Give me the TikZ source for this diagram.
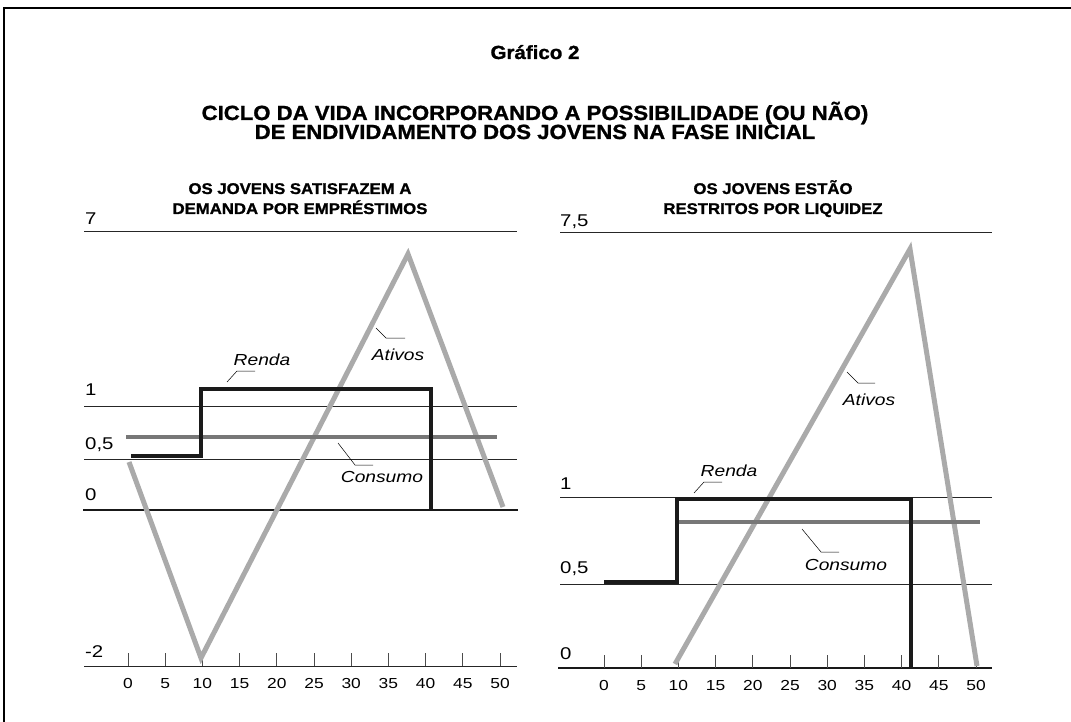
\documentclass[tikz,border=0pt]{standalone}
\usepackage{fontspec}
\setmainfont{Liberation Sans}[FakeStretch=1.2]
\newfontfamily\headfont{Liberation Sans}[FakeStretch=1.08, BoldFeatures={FakeBold=1.2}]
\usetikzlibrary{positioning}

\definecolor{rendacol}{HTML}{1A1A1A}
\definecolor{consumocol}{HTML}{777777}
\definecolor{ativoscol}{HTML}{AAAAAA}

\begin{document}
\begin{tikzpicture}[x=1pt, y=-1pt,
  frame/.style={line width=1.2pt},
  grid/.style={line width=0.9pt, black!85},
  zero/.style={line width=2pt, black!90},
  tick/.style={line width=0.9pt, black!70},
  renda/.style={line width=4pt, rendacol, line join=miter},
  consumo/.style={line width=4pt, consumocol},
  ativos/.style={line width=5pt, ativoscol, line join=miter},
  leader/.style={line width=0.5pt},
  heading/.style={font=\headfont\fontsize{20.5}{22}\selectfont\bfseries, anchor=base},
  subtitle/.style={font=\headfont\fontsize{15.5}{16}\selectfont\bfseries, anchor=base},
  yval/.style={font=\fontsize{17}{17}\selectfont, anchor=base west, inner sep=0pt},
  xval/.style={font=\fontsize{14.5}{15}\selectfont, anchor=base, inner sep=0pt},
  curve/.style={font=\fontsize{16}{16}\selectfont\itshape, inner sep=0pt}]
  \useasboundingbox (0,0) rectangle (1071,722);
  \draw[frame] (4,722) -- (4,8) -- (1071,8);

  % titles
  \node[heading, font=\headfont\fontsize{19}{19}\selectfont\bfseries] (grafico) at (535,59) {Gráfico 2};
  \node[heading] (titleA) at (535,120) {CICLO DA VIDA INCORPORANDO A POSSIBILIDADE (OU NÃO)};
  \node[heading] (titleB) at (535,139) {DE ENDIVIDAMENTO DOS JOVENS NA FASE INICIAL};

  % left panel
  \node[subtitle] (subLA) at (300,194) {OS JOVENS SATISFAZEM A};
  \node[subtitle] (subLB) at (300,214) {DEMANDA POR EMPRÉSTIMOS};
  \draw[grid] (84,231) -- (517,231);
  \draw[grid] (84,406) -- (517,406);
  \draw[grid] (84,459) -- (517,459);
  \draw[zero] (83,510) -- (518,510);
  \draw[grid] (84,666) -- (517,666);
  \node[yval] (lySeven) at (85,225) {7};
  \node[yval] (lyOne)   at (85,395) {1};
  \node[yval] (lyHalf)  at (85,449) {0,5};
  \node[yval] (lyZero)  at (85,500) {0};
  \node[yval] (lyMinus) at (85,657) {-2};
  \foreach \t in {0,5,...,50} {
    \draw[tick] ({128+7.44*\t},653) -- ({128+7.44*\t},666);
    \node[xval] (lt\t) at ({128+7.44*\t},688) {\t};
  }
  \draw[ativos] (129,462) -- (201,658) -- (408,254) -- (503,507);
  \draw[consumo] (126,437) -- (497,437);
  \draw[renda] (131,456) -- (201,456) -- (201,389) -- (431,389) -- (431,510);

  \node[curve] (rendaL)   at (262,360) {Renda};
  \node[curve] (ativosL)  at (398,355) {Ativos};
  \node[curve] (consumoL) at (382,477) {Consumo};
  \coordinate (rendaLpt)   at (227,382);
  \coordinate (ativosLpt)  at (376,328);
  \coordinate (consumoLpt) at (338,443);
  \draw[leader] (rendaLpt) -- (237,371) -- (255,371);
  \draw[leader] (ativosLpt) -- (386,338) -- (405,338);
  \draw[leader] (consumoLpt) -- (355,465) -- (373,465);

  % right panel
  \node[subtitle] (subRA) at (773,194) {OS JOVENS ESTÃO};
  \node[subtitle] (subRB) at (773,214) {RESTRITOS POR LIQUIDEZ};
  \draw[grid] (560,232) -- (992,232);
  \draw[grid] (560,497) -- (992,497);
  \draw[grid] (560,584) -- (992,584);
  \draw[zero] (558,668) -- (992,668);
  \node[yval] (rySeven) at (560,226) {7,5};
  \node[yval] (ryOne)   at (560,489) {1};
  \node[yval] (ryHalf)  at (560,573) {0,5};
  \node[yval] (ryZero)  at (560,659) {0};
  \foreach \t in {0,5,...,50} {
    \draw[tick] ({604+7.44*\t},655) -- ({604+7.44*\t},668);
    \node[xval] (rt\t) at ({604+7.44*\t},690) {\t};
  }
  \draw[ativos] (675,664) -- (910,249) -- (977,666);
  \draw[consumo] (677,522) -- (980,522);
  \draw[renda] (604,582) -- (677,582) -- (677,499) -- (911,499) -- (911,668);

  \node[curve] (rendaR)   at (729,471) {Renda};
  \node[curve] (ativosR)  at (869,400) {Ativos};
  \node[curve] (consumoR) at (846,565) {Consumo};
  \coordinate (rendaRpt)   at (694,493);
  \coordinate (ativosRpt)  at (847,372);
  \coordinate (consumoRpt) at (802,529);
  \draw[leader] (rendaRpt) -- (704,482) -- (722,482);
  \draw[leader] (ativosRpt) -- (858,383) -- (875,383);
  \draw[leader] (consumoRpt) -- (821,552) -- (839,552);
\end{tikzpicture}
\end{document}
